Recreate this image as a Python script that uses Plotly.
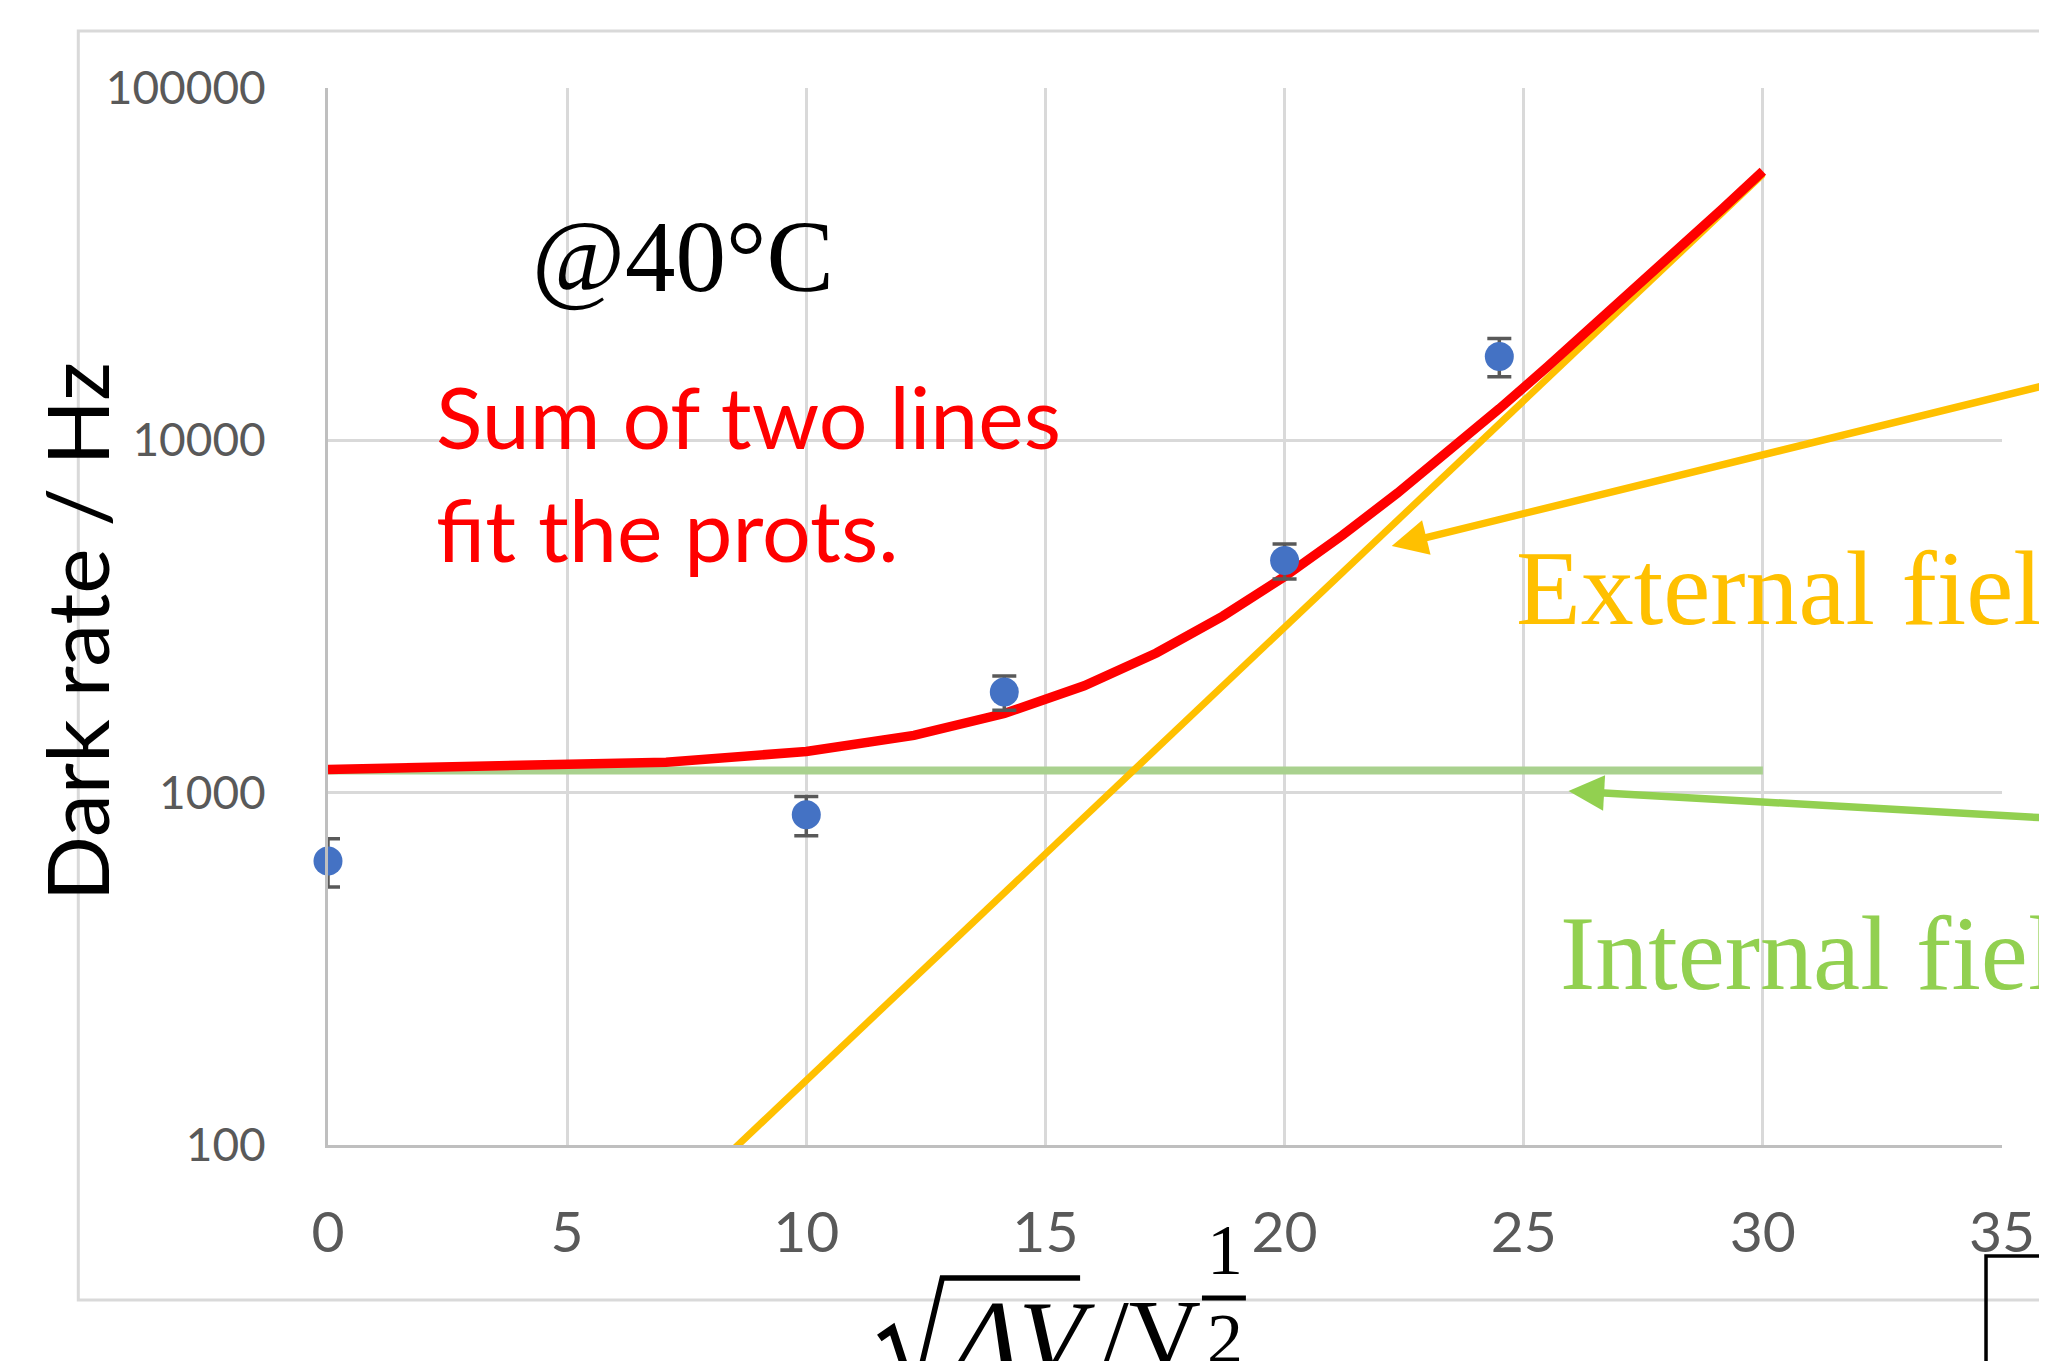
import plotly.graph_objects as go

# ---- data ----
x_data = [0, 10, 14.14, 20, 24.49]
y_data = [640, 865, 1930, 4560, 17300]
y_err = [100, 110, 215, 520, 2150]

x_fit = [0, 7.07, 10, 12.25, 14.14, 15.81, 17.32, 18.71, 20, 21.21, 22.36,
         23.45, 24.49, 25.5, 26.46, 27.39, 28.28, 29.15, 30]
external = [7.9, 64, 153, 298, 521, 855, 1336, 2015, 2951, 4220, 5930,
            8180, 11140, 15030, 19960, 26300, 34200, 44200, 56900]
total = [1164, 1220, 1309, 1454, 1677, 2011, 2492, 3171, 4107, 5376, 7086,
         9336, 12296, 16186, 21116, 27456, 35356, 45356, 58056]
x_internal = [0, 30]
internal = [1156, 1156]

x_ticks = [0, 5, 10, 15, 20, 25, 30, 35]
y_ticks = [100, 1000, 10000, 100000]
y_tick_text = ["100", "1000", "10000", "100000"]

# ---- layout geometry (page pixels; the page body has an 8px margin) ----
OFF = 8
W, H = 2047 - OFF, 1361 - OFF
L, R, T, B = 328, 2004, 88, 1145


def px(x):
    return (x - L) / (R - L)


def py(y):
    return (B - y) / (B - T)


fig = go.Figure()
fig.add_trace(go.Scatter(x=x_internal, y=internal, mode="lines",
                         line=dict(color="#A9D18E", width=8), showlegend=False))
fig.add_trace(go.Scatter(x=x_fit, y=external, mode="lines",
                         line=dict(color="#FFC000", width=7), showlegend=False))
fig.add_trace(go.Scatter(x=x_fit, y=total, mode="lines",
                         line=dict(color="#FF0000", width=9.5), showlegend=False))
fig.add_trace(go.Scatter(x=x_data, y=y_data, mode="markers",
                         marker=dict(color="#4472C4", size=29),
                         error_y=dict(type="data", array=y_err, visible=True,
                                      color="#595959", thickness=3.5, width=12),
                         cliponaxis=False, showlegend=False))

serif = "Liberation Serif"
sans = "Lato"
ann = []
ann.append(dict(text="@40°C", x=px(530), y=py(257), xref="paper", yref="paper",
                xanchor="left", yanchor="middle", showarrow=False,
                font=dict(family=serif, size=101, color="black")))
ann.append(dict(text="Sum of two lines", x=px(434), y=py(416), xref="paper", yref="paper",
                xanchor="left", yanchor="middle", showarrow=False,
                font=dict(family=sans, size=86, color="#FF0000")))
ann.append(dict(text="fit the prots.", x=px(434), y=py(528), xref="paper", yref="paper",
                xanchor="left", yanchor="middle", showarrow=False,
                font=dict(family=sans, size=86, color="#FF0000")))
ann.append(dict(text="External field", x=px(1515), y=py(588), xref="paper", yref="paper",
                xanchor="left", yanchor="middle", showarrow=False,
                font=dict(family=serif, size=106, color="#FFC000")))
ann.append(dict(text="Internal field", x=px(1559), y=py(953), xref="paper", yref="paper",
                xanchor="left", yanchor="middle", showarrow=False,
                font=dict(family=serif, size=106, color="#92D050")))
# arrows
ann.append(dict(text="", x=px(1393), y=py(546), xref="paper", yref="paper",
                ax=757, ay=-161, showarrow=True, arrowhead=2, arrowsize=0.95,
                arrowwidth=7.5, arrowcolor="#FFC000"))
ann.append(dict(text="", x=px(1570), y=py(791), xref="paper", yref="paper",
                ax=580, ay=27, showarrow=True, arrowhead=2, arrowsize=0.95,
                arrowwidth=7.5, arrowcolor="#92D050"))
# y title
ann.append(dict(text="Dark rate / Hz", x=px(75), y=py(632), xref="paper", yref="paper",
                xanchor="center", yanchor="middle", textangle=-90, showarrow=False,
                font=dict(family=sans, size=86, color="black")))
# x title pieces (sqrt(ΔV) / V^(1/2))
ann.append(dict(text="<i>ΔV</i>", x=px(950), y=py(1338), xref="paper", yref="paper",
                xanchor="left", yanchor="middle", showarrow=False,
                font=dict(family=serif, size=108, color="black")))
ann.append(dict(text="/V", x=px(1100), y=py(1334), xref="paper", yref="paper",
                xanchor="left", yanchor="middle", showarrow=False,
                font=dict(family=serif, size=100, color="black")))
ann.append(dict(text="1", x=px(1226), y=py(1250), xref="paper", yref="paper",
                xanchor="center", yanchor="middle", showarrow=False,
                font=dict(family=serif, size=72, color="black")))
ann.append(dict(text="2", x=px(1226), y=py(1339), xref="paper", yref="paper",
                xanchor="center", yanchor="middle", showarrow=False,
                font=dict(family=serif, size=72, color="black")))

shapes = []
# outer chart-area border
shapes.append(dict(type="rect", xref="paper", yref="paper",
                   x0=px(78), y0=py(1300), x1=px(2200), y1=py(31),
                   line=dict(color="#D9D9D9", width=3), layer="below"))
# black box at bottom right
shapes.append(dict(type="rect", xref="paper", yref="paper",
                   x0=px(1988), y0=py(1450), x1=px(2200), y1=py(1256),
                   line=dict(color="black", width=3.5)))
# radical sign
shapes.append(dict(type="path", xref="paper", yref="paper",
                   path=f"M {px(880)},{py(1338)} L {px(893)},{py(1329)} L {px(916)},{py(1400)}",
                   line=dict(color="black", width=8)))
shapes.append(dict(type="path", xref="paper", yref="paper",
                   path=f"M {px(914)},{py(1400)} L {px(943)},{py(1278)} L {px(1081)},{py(1278)}",
                   line=dict(color="black", width=5.5)))
# fraction bar
shapes.append(dict(type="line", xref="paper", yref="paper",
                   x0=px(1203), y0=py(1298), x1=px(1247), y1=py(1298),
                   line=dict(color="black", width=5)))

fig.update_layout(
    width=W, height=H,
    margin=dict(l=L - OFF, r=W - (R - OFF), t=T - OFF, b=H - (B - OFF), pad=0),
    paper_bgcolor="white", plot_bgcolor="white",
    annotations=ann, shapes=shapes,
    xaxis=dict(range=[0, 35], tickvals=x_ticks, showgrid=True, gridcolor="#D9D9D9",
               gridwidth=3, zeroline=False, showline=True, linecolor="#BFBFBF",
               linewidth=3, ticks="", ticklabelstandoff=36,
               tickfont=dict(family=sans, size=57, color="#595959")),
    yaxis=dict(type="log", range=[2, 5], tickvals=y_ticks, ticktext=y_tick_text,
               showgrid=True, gridcolor="#D9D9D9", gridwidth=3, zeroline=False,
               showline=True, linecolor="#BFBFBF", linewidth=3, ticks="",
               ticklabelstandoff=50,
               tickfont=dict(family=sans, size=46, color="#595959")),
)

fig.write_html("out.html")
